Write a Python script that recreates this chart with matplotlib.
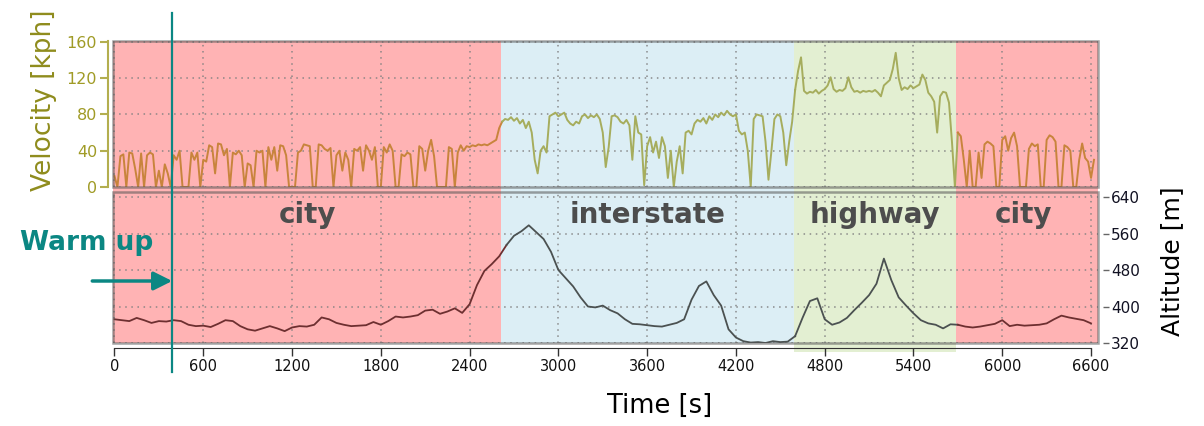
import numpy as np
import matplotlib
matplotlib.use("Agg")
import matplotlib.pyplot as plt
from matplotlib import font_manager, transforms
from matplotlib.patches import Rectangle
from matplotlib.lines import Line2D

# ---------------- data ----------------
region_names = ["city", "interstate", "highway", "city"]
region_bounds = [2610, 4590, 5690]          # s, boundaries between regions
warmup_time = 390                            # s

vel_step = 20
vel_city1_start = 0
vel_city1 = [12, 0, 34, 36, 0, 38, 37, 20, 0, 37, 0, 35, 38, 36, 0, 18, 0, 25, 15, 0,
             35, 30, 40, 0, 0, 0, 38, 30, 38, 0, 30, 28, 46, 44, 15, 48, 47, 35, 42, 0,
             38, 36, 40, 35, 0, 26, 24, 0, 40, 38, 40, 0, 44, 30, 44, 18, 46, 45, 35, 0,
             0, 0, 38, 40, 47, 46, 45, 0, 0, 47, 46, 42, 40, 43, 0, 35, 40, 18, 38, 30,
             0, 42, 40, 44, 18, 46, 40, 30, 44, 0, 0, 44, 38, 47, 40, 0, 0, 36, 34, 38,
             36, 0, 0, 45, 42, 18, 40, 52, 34, 0, 0, 0, 0, 44, 42, 0, 38, 46, 40, 45,
             44, 46, 45, 47, 46, 47, 46, 48, 50, 52, 65]
vel_inter_start = 2620
vel_inter = [72, 75, 74, 77, 73, 76, 70, 74, 65, 72, 60, 30, 15, 40, 45, 38, 78, 80, 82, 78,
             80, 82, 74, 70, 68, 72, 70, 78, 80, 76, 79, 77, 80, 75, 60, 22, 44, 78, 79, 77,
             72, 70, 74, 68, 30, 78, 60, 58, 2, 45, 55, 38, 50, 32, 55, 45, 10, 40, 0, 28,
             45, 15, 60, 62, 58, 70, 74, 72, 76, 70, 78, 74, 80, 77, 82, 79, 84, 80, 78, 80,
             62, 58, 60, 40, 0, 75, 80, 79, 78, 50, 8, 40, 75, 80, 78, 60, 24, 50, 72]
vel_high_start = 4600
vel_high = [107, 128, 143, 106, 103, 105, 104, 107, 103, 106, 108, 112, 121, 108, 105, 107,
            106, 109, 121, 110, 105, 106, 104, 106, 105, 106, 105, 107, 104, 100, 112, 115,
            118, 130, 148, 120, 107, 110, 108, 112, 109, 111, 113, 124, 118, 104, 100, 94,
            60, 100, 105, 104, 93, 50, 0]
vel_city2_start = 5700
vel_city2 = [60, 56, 30, 0, 40, 0, 0, 38, 10, 47, 50, 48, 45, 0, 0, 52, 56, 40, 54, 60,
             45, 0, 0, 0, 42, 48, 45, 47, 0, 0, 52, 57, 55, 50, 0, 0, 46, 44, 40, 0,
             0, 30, 48, 32, 28, 10, 30]

alt_step = 50
altitude = [372, 370, 368, 375, 370, 364, 368, 367, 370, 368, 360, 357, 358, 355, 362, 370,
            368, 357, 350, 347, 352, 357, 352, 346, 354, 357, 356, 360, 376, 372, 364, 360,
            357, 358, 359, 366, 360, 368, 378, 376, 378, 381, 391, 393, 384, 389, 396, 386,
            405, 447, 478, 493, 510, 535, 555, 565, 578, 563, 548, 520, 480, 462, 444, 420,
            400, 398, 402, 392, 385, 372, 362, 361, 359, 357, 356, 360, 364, 372, 415, 445,
            455, 425, 402, 350, 332, 324, 321, 322, 320, 324, 322, 323, 335, 375, 412, 418,
            372, 360, 365, 375, 392, 408, 425, 450, 505, 458, 420, 402, 385, 370, 363, 360,
            352, 361, 360, 356, 354, 356, 359, 362, 370, 357, 360, 358, 359, 360, 363, 372,
            380, 376, 373, 370, 363]

vel_ticks = [0, 40, 80, 120, 160]
alt_ticks = [320, 400, 480, 560, 640]
time_ticks = list(range(0, 6601, 600))

# ---------------- style ----------------
W, H = 1204, 426
XMIN, XMAX = -8, 6645
C_PINK, C_BLUE, C_GREEN = "#ffb3b4", "#dceef5", "#e3efd2"
band_colors = [C_PINK, C_BLUE, C_GREEN, C_PINK]
VEL_CITY, VEL_OTHER = "#c8843c", "#a6ad5d"
ALT_CITY, ALT_OTHER = "#6d2f30", "#4b5151"
OLIVE_SP, OLIVE_TX, OLIVE_LB = "#b3ae4f", "#a09b26", "#8f8c1d"
TEAL = "#0b8783"
FRAME = "#555555"

names = {f.name for f in font_manager.fontManager.ttflist}
if "Liberation Sans Narrow" in names:
    XT_FONT, XT_SIZE = "Liberation Sans Narrow", 13
else:
    XT_FONT, XT_SIZE = "DejaVu Sans", 10.5

fig = plt.figure(figsize=(W / 100, H / 100), dpi=100)

def fr(l, t, r, b):
    return [l / W, 1 - b / H, (r - l) / W, (b - t) / H]

bg = fig.add_axes(fr(113.3, 41, 1097.7, 352), zorder=0)
ax1 = fig.add_axes(fr(113.3, 41, 1097.7, 187), zorder=2)
ax2 = fig.add_axes(fr(113.3, 192, 1097.7, 343), zorder=2)

# background bands
edges = [XMIN] + region_bounds + [XMAX]
bg.set_xlim(XMIN, XMAX)
bg.set_ylim(0, 1)
bg.axis("off")
low = 9 / 311
for k in range(4):
    ymin = 0 if region_names[k] == "highway" else low
    bg.axvspan(edges[k], edges[k + 1], ymin=ymin, ymax=1, color=band_colors[k], lw=0)

def series(starts_vals, step):
    t, v = [], []
    for s, vals in starts_vals:
        t.extend(s + step * np.arange(len(vals)))
        v.extend(vals)
    return np.array(t, float), np.array(v, float)

tv, vv = series([(vel_city1_start, vel_city1), (vel_inter_start, vel_inter),
                 (vel_high_start, vel_high), (vel_city2_start, vel_city2)], vel_step)
ta = alt_step * np.arange(len(altitude))
aa = np.array(altitude, float)

def plot_by_region(ax, t, y, c_city, c_other, lw):
    seg = np.searchsorted(region_bounds, t, side="right")
    for k in range(4):
        idx = np.where(seg == k)[0]
        if len(idx) == 0:
            continue
        lo, hi = idx[0], min(idx[-1] + 1, len(t) - 1)
        col = c_city if region_names[k] == "city" else c_other
        ax.plot(t[lo:hi + 1], y[lo:hi + 1], color=col, lw=lw, solid_joinstyle="round", zorder=3)

grid_kw = dict(color="#808080", linestyle=(0, (1, 3)), linewidth=1.1, alpha=0.9)

# ---- velocity panel ----
ax1.patch.set_visible(False)
plot_by_region(ax1, tv, vv, VEL_CITY, VEL_OTHER, 1.4)
ax1.set_xlim(XMIN, XMAX)
ax1.set_ylim(0, 161)
ax1.set_xticks(time_ticks)
ax1.set_yticks(vel_ticks)
ax1.grid(True, **grid_kw)
ax1.tick_params(axis="x", bottom=False, labelbottom=False)
for s in ["top", "right", "bottom"]:
    ax1.spines[s].set_visible(False)
ax1.spines["left"].set_position(("outward", 3.6))
ax1.spines["left"].set_color(OLIVE_SP)
ax1.spines["left"].set_linewidth(1.5)
ax1.tick_params(axis="y", colors=OLIVE_SP, labelcolor=OLIVE_TX, length=6, width=1.5,
                labelsize=11.5, pad=2)
ax1.add_patch(Rectangle((0, 0), 1, 1, transform=ax1.transAxes, fill=False,
                        edgecolor=FRAME, alpha=0.55, lw=1.8, zorder=4, clip_on=False))

# ---- altitude panel ----
ax2.patch.set_visible(False)
plot_by_region(ax2, ta, aa, ALT_CITY, ALT_OTHER, 1.3)
ax2.set_xlim(XMIN, XMAX)
ax2.set_ylim(320, 651)
ax2.set_xticks(time_ticks)
ax2.set_yticks(alt_ticks)
ax2.grid(True, **grid_kw)
ax2.yaxis.tick_right()
for s in ["top", "left", "right"]:
    ax2.spines[s].set_visible(False)
ax2.spines["right"].set_position(("outward", 3.6))
ax2.spines["bottom"].set_position(("outward", 3.6))
ax2.spines["bottom"].set_bounds(0, 6600)
ax2.spines["bottom"].set_color("#333333")
ax2.tick_params(axis="y", colors="#666666", labelcolor="#111122", length=4, width=1,
                labelsize=11, pad=2)
ax2.tick_params(axis="x", colors="#333333", labelcolor="#111111", length=6, width=1,
                labelsize=XT_SIZE, pad=2)
for lab in ax2.get_xticklabels():
    lab.set_family(XT_FONT)
ax2.add_patch(Rectangle((0, 0), 1, 1, transform=ax2.transAxes, fill=False,
                        edgecolor=FRAME, alpha=0.55, lw=1.8, zorder=4, clip_on=False))

# region labels
trans2 = transforms.blended_transform_factory(ax2.transData, ax2.transAxes)
for k in range(4):
    xc = (max(edges[k], 0) + min(edges[k + 1], 6600)) / 2
    ax2.text(xc, 0.85, region_names[k], transform=trans2, ha="center", va="center",
             fontsize=20, fontweight="bold", color="#4d4d4d", zorder=5)

# axis labels
fig.text(44 / W, 1 - 100 / H, "Velocity [kph]", rotation=90, ha="center", va="center",
         fontsize=19, color=OLIVE_LB)
fig.text(1172 / W, 1 - 261 / H, "Altitude [m]", rotation=90, ha="center", va="center",
         fontsize=18, color="black")
fig.text(660 / W, 1 - 406 / H, "Time [s]", ha="center", va="center", fontsize=18.5,
         color="black")

# warm up marker
tline = transforms.blended_transform_factory(ax1.transData, fig.transFigure)
fig.add_artist(Line2D([warmup_time, warmup_time], [1 - 13 / H, 1 - 372 / H],
                      transform=tline, color=TEAL, lw=1.6, zorder=10))
tarrow = transforms.blended_transform_factory(ax2.transData, fig.transFigure)
ax2.annotate("", xy=(warmup_time, 1 - 281 / H), xycoords=tarrow,
             xytext=(-150, 1 - 281 / H), textcoords=tarrow,
             arrowprops=dict(arrowstyle="-|>", color=TEAL, lw=2.5, mutation_scale=28,
                             shrinkA=0, shrinkB=0),
             annotation_clip=False, zorder=10)
fig.text(20 / W, 1 - 243 / H, "Warm up", ha="left", va="center", fontsize=19,
         fontweight="bold", color=TEAL)

fig.savefig("out.png", dpi=100)
